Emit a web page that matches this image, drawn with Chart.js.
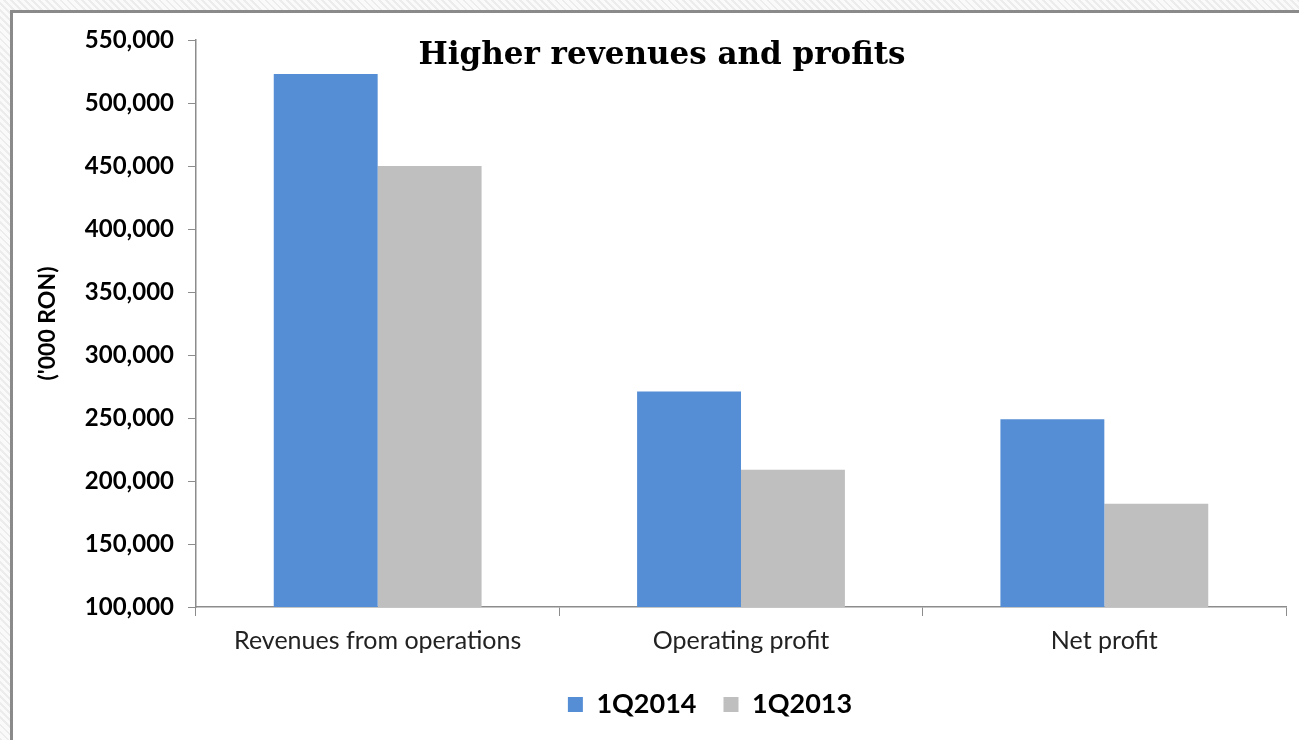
<!DOCTYPE html>
<html>
<head>
<meta charset="utf-8">
<script src="https://cdn.jsdelivr.net/npm/chart.js@4"></script>
<style>
  html, body { margin: 0; padding: 0; }
  body {
    width: 1299px; height: 740px; overflow: hidden; position: relative;
    background: repeating-linear-gradient(45deg, #ececec 0 2px, #fafafa 2px 5px);
  }
  #box {
    position: absolute; left: 10px; top: 10px; width: 1310px; height: 760px;
    background: #fff; border-left: 3px solid #8a8a8a; border-top: 3px solid #8a8a8a;
  }
  #chart { position: absolute; left: 0; top: 0; }
</style>
</head>
<body>
<div id="box"></div>
<canvas id="chart" width="1299" height="740"></canvas>
<script>
const categories = ['Revenues from operations', 'Operating profit', 'Net profit'];
const q2014 = [523000, 271000, 249000];
const q2013 = [450000, 209000, 182000];
const seriesNames = ['1Q2014', '1Q2013'];
const yTicks = { min: 100000, max: 550000, step: 50000 };

// title sits inside the plot area, like the Excel original
const titlePlugin = {
    id: 'floatTitle',
    afterDraw(chart) {
        const ctx = chart.ctx;
        ctx.save();
        ctx.font = 'bold 31px "DejaVu Serif", serif';
        ctx.fillStyle = '#000';
        ctx.textAlign = 'center';
        ctx.textBaseline = 'middle';
        ctx.fillText('Higher revenues and profits', 662, 56);
        ctx.restore();
    }
};

// legend in the original is not centred on the canvas
const legendShift = {
    id: 'legendShift',
    afterLayout(chart) {
        chart.legend.left += 67;
        chart.legend.right += 67;
    }
};

const chartCtx = document.getElementById('chart').getContext('2d');
const axisColor = '#8c8c8c';
let revChart = new Chart(chartCtx, {
    type: 'bar',
    data: {
        labels: categories,
        datasets: [
            { label: seriesNames[0], data: q2014, backgroundColor: '#558ed5', borderWidth: 0 },
            { label: seriesNames[1], data: q2013, backgroundColor: '#bfbfbf', borderWidth: 0 }
        ]
    },
    options: {
        responsive: false,
        animation: false,
        layout: { padding: { top: 40, right: 13, bottom: 12, left: 0 } },
        datasets: { bar: { categoryPercentage: 0.572, barPercentage: 1 } },
        plugins: {
            legend: {
                position: 'bottom',
                labels: {
                    boxWidth: 15, boxHeight: 15, padding: 27, color: '#000',
                    font: { family: 'Lato', size: 27, weight: 'bold' }
                }
            },
            tooltip: { enabled: false }
        },
        scales: {
            x: {
                grid: { drawOnChartArea: false, color: axisColor, tickLength: 9, offset: true },
                border: { color: axisColor, width: 1.5 },
                ticks: { color: '#222', padding: 10, font: { family: 'Lato', size: 25 } },
                afterFit(s) { s.height = 57; }
            },
            y: {
                min: yTicks.min, max: yTicks.max,
                grid: { drawOnChartArea: false, color: axisColor, tickLength: 8 },
                border: { color: axisColor, width: 1.5 },
                ticks: {
                    stepSize: yTicks.step, color: '#000', padding: 14,
                    font: { family: 'Lato', size: 24, weight: 'bold' },
                    callback: v => v.toLocaleString('en-US')
                },
                title: {
                    display: true, text: "('000 RON)", color: '#000',
                    font: { family: 'Lato', size: 23, weight: 'bold' },
                    padding: { top: 34 }
                },
                afterFit(s) { s.width = 196; }
            }
        }
    },
    plugins: [titlePlugin, legendShift]
});
</script>
</body>
</html>
